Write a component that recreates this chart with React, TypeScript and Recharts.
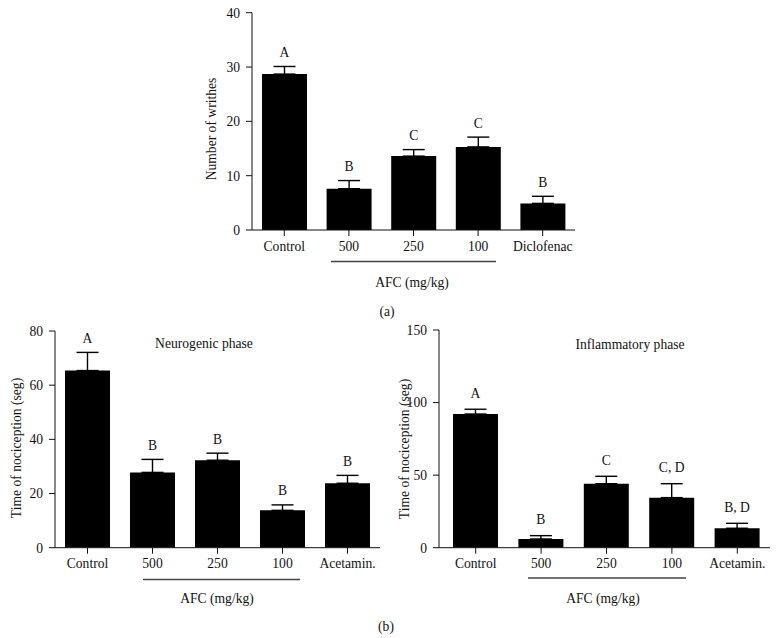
import { BarChart, Bar, XAxis, YAxis, ErrorBar, LabelList } from "recharts";

const font = "'Liberation Serif', 'DejaVu Serif', serif";
const ink = "#111";
const fs = 13.6;

// (a) writhing test
const writhesGroups = ["Control", "500", "250", "100", "Diclofenac"];
const writhesMean = [28.7, 7.6, 13.6, 15.3, 4.9];
const writhesSem = [1.4, 1.5, 1.2, 1.8, 1.3];
const writhesLetters = ["A", "B", "C", "C", "B"];
const writhesTicks = [0, 10, 20, 30, 40];

// (b) formalin test
const formalinGroups = ["Control", "500", "250", "100", "Acetamin."];
const neuroMean = [65.4, 27.8, 32.3, 13.8, 23.8];
const neuroSem = [6.7, 4.8, 2.6, 2.0, 2.9];
const neuroLetters = ["A", "B", "B", "B", "B"];
const neuroTicks = [0, 20, 40, 60, 80];

const inflamMean = [92.1, 6.0, 44.1, 34.5, 13.4];
const inflamSem = [3.3, 2.3, 5.1, 9.6, 3.4];
const inflamLetters = ["A", "B", "C", "C, D", "B, D"];
const inflamTicks = [0, 50, 100, 150];

type PanelProps = {
  groups: string[];
  mean: number[];
  sem: number[];
  letters: string[];
  ticks: number[];
  boxLeft: number;
  boxTop: number;
  boxWidth: number;
  boxHeight: number;
  axisX: number;
  axisRight: number;
  axisTop: number;
  axisBottom: number;
  padLeft?: number;
  letterGap: number;
};

const Panel = (p: PanelProps) => {
  const data = p.groups.map((name, i) => ({
    name,
    value: p.mean[i],
    err: [0, p.sem[i]],
    letter: p.letters[i],
  }));
  const xAxisH = 30;
  const renderLetter = (props: any) => {
    const { x, y, width, height, index } = props;
    const i = typeof index === "number" ? index : p.letters.indexOf(props.value);
    const perUnit = Number(height) / p.mean[i];
    const yTop = Number(y) - p.sem[i] * perUnit - p.letterGap;
    return (
      <text
        x={Number(x) + Number(width) / 2}
        y={yTop}
        textAnchor="middle"
        dominantBaseline="central"
        fontFamily={font}
        fontSize={fs}
        fill={ink}
      >
        {p.letters[i]}
      </text>
    );
  };
  return (
    <div style={{ position: "absolute", left: p.boxLeft, top: p.boxTop }}>
      <BarChart
        width={p.boxWidth}
        height={p.boxHeight}
        data={data}
        margin={{
          top: p.axisTop - p.boxTop,
          left: 0,
          right: p.boxLeft + p.boxWidth - p.axisRight,
          bottom: p.boxTop + p.boxHeight - p.axisBottom - xAxisH,
        }}
      >
        <XAxis
          dataKey="name"
          height={xAxisH}
          padding={{ left: p.padLeft ?? 0, right: 0 }}
          stroke={ink}
          tickSize={6}
          tickMargin={5}
          tick={{ fill: ink, fontSize: fs, fontFamily: font }}
          interval={0}
        />
        <YAxis
          width={p.axisX - p.boxLeft}
          domain={[p.ticks[0], p.ticks[p.ticks.length - 1]]}
          ticks={p.ticks}
          stroke={ink}
          tickSize={6}
          tickMargin={6}
          tick={{ fill: ink, fontSize: fs, fontFamily: font }}
          allowDataOverflow
        />
        <Bar dataKey="value" fill="#000" barSize={45} isAnimationActive={false}>
          <ErrorBar dataKey="err" width={11} stroke="#000" strokeWidth={1.4} direction="y" />
          <LabelList dataKey="letter" content={renderLetter} />
        </Bar>
      </BarChart>
    </div>
  );
};

const txt = { fontFamily: font, fontSize: fs, fill: ink } as const;

export default function App() {
  return (
    <div style={{ position: "absolute", left: 0, top: 0, width: 779, height: 638, background: "#fff" }}>
      <Panel
        groups={writhesGroups}
        mean={writhesMean}
        sem={writhesSem}
        letters={writhesLetters}
        ticks={writhesTicks}
        boxLeft={0}
        boxTop={0}
        boxWidth={779}
        boxHeight={320}
        axisX={252}
        axisRight={575}
        axisTop={12.7}
        axisBottom={230}
        letterGap={14}
      />
      <Panel
        groups={formalinGroups}
        mean={neuroMean}
        sem={neuroSem}
        letters={neuroLetters}
        ticks={neuroTicks}
        boxLeft={0}
        boxTop={320}
        boxWidth={390}
        boxHeight={318}
        axisX={55}
        axisRight={380}
        axisTop={331}
        axisBottom={547.7}
        letterGap={14}
      />
      <Panel
        groups={formalinGroups}
        mean={inflamMean}
        sem={inflamSem}
        letters={inflamLetters}
        ticks={inflamTicks}
        boxLeft={390}
        boxTop={320}
        boxWidth={389}
        boxHeight={318}
        axisX={439}
        axisRight={770}
        axisTop={330}
        axisBottom={547.7}
        padLeft={4}
        letterGap={16}
      />
      <svg
        width={779}
        height={638}
        style={{ position: "absolute", left: 0, top: 0, pointerEvents: "none" }}
      >
        <text {...txt} transform="translate(211,129) rotate(-90)" textAnchor="middle" dominantBaseline="central">
          Number of writhes
        </text>
        <text {...txt} transform="translate(16,448) rotate(-90)" textAnchor="middle" dominantBaseline="central">
          Time of nociception (seg)
        </text>
        <text {...txt} transform="translate(404,449) rotate(-90)" textAnchor="middle" dominantBaseline="central">
          Time of nociception (seg)
        </text>

        <text {...txt} x={204} y={343} textAnchor="middle" dominantBaseline="central">
          Neurogenic phase
        </text>
        <text {...txt} x={630} y={344} textAnchor="middle" dominantBaseline="central">
          Inflammatory phase
        </text>

        <line x1={331} x2={496} y1={261.5} y2={261.5} stroke="#444" strokeWidth={1.3} />
        <line x1={143} x2={300} y1={579.5} y2={579.5} stroke="#444" strokeWidth={1.3} />
        <line x1={528} x2={686} y1={578} y2={578} stroke="#444" strokeWidth={1.3} />

        <text {...txt} x={412} y={282} textAnchor="middle" dominantBaseline="central">
          AFC (mg/kg)
        </text>
        <text {...txt} x={217} y={598} textAnchor="middle" dominantBaseline="central">
          AFC (mg/kg)
        </text>
        <text {...txt} x={603} y={598} textAnchor="middle" dominantBaseline="central">
          AFC (mg/kg)
        </text>

        <text {...txt} x={387} y={311} textAnchor="middle" dominantBaseline="central">
          (a)
        </text>
        <text {...txt} x={386} y={626} textAnchor="middle" dominantBaseline="central">
          (b)
        </text>
      </svg>
    </div>
  );
}
